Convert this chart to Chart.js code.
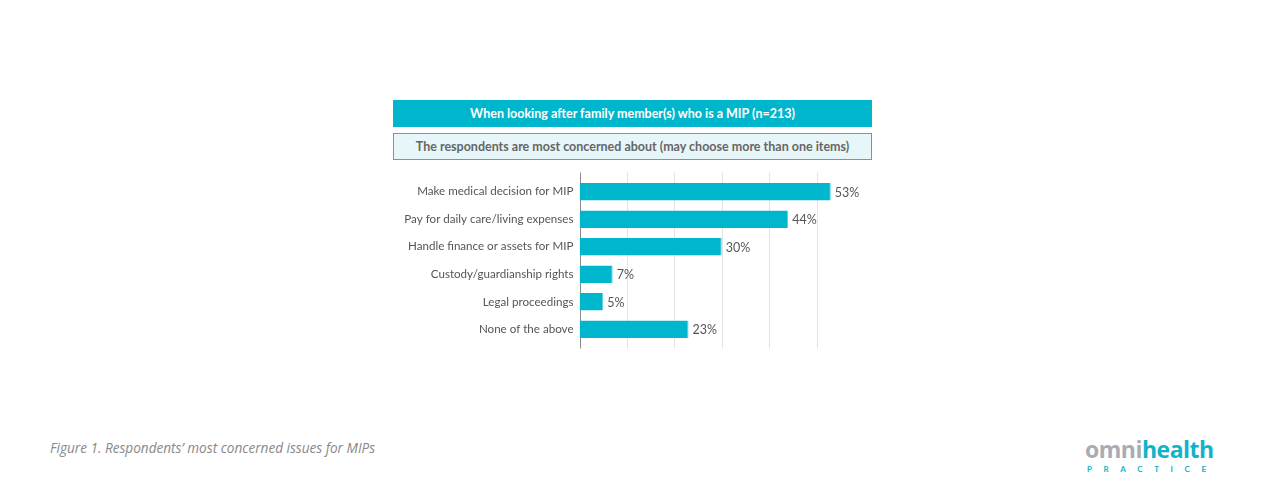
<!DOCTYPE html>
<html>
<head>
<meta charset="utf-8">
<script src="https://cdn.jsdelivr.net/npm/chart.js@4"></script>
<style>
  html, body { margin: 0; padding: 0; background: #fff; }
  body { width: 1266px; height: 498px; position: relative; overflow: hidden;
         font-family: Lato, "Open Sans", sans-serif; }
  .box { position: absolute; left: 393px; width: 479px; height: 27px; box-sizing: border-box;
         text-align: center; font-size: 12.5px; font-weight: bold; line-height: 25px; }
  #head { top: 100px; background: #00b6cc; color: #fff; border: 1px solid #00b6cc; }
  #sub  { top: 133px; background: #e7f6f9; color: #666; border: 1px solid #1fbcd1; }
  #wrap { position: absolute; left: 370px; top: 165px; width: 523px; height: 191px; }
  #caption { position: absolute; left: 50px; top: 438px; font-family: "Open Sans", sans-serif;
             font-size: 13.6px; font-style: italic; color: #888; }
  #logo { position: absolute; left: 1085px; top: 436px; width: 132px; height: 40px; }
  #logo .name { position: absolute; left: 0; top: 0; font-size: 23px; font-weight: bold;
                letter-spacing: -0.5px; line-height: 26px; font-family: "Open Sans", sans-serif; }
  #logo .omni { color: #a9adb2; }
  #logo .health { color: #10b3c9; }
  #logo .prac { position: absolute; left: 2px; top: 28px; font-size: 8px; font-weight: bold; color: #10b3c9;
                letter-spacing: 11.6px; line-height: 10px; }
</style>
</head>
<body>
<div class="box" id="head">When looking after family member(s) who is a MIP (n=213)</div>
<div class="box" id="sub">The respondents are most concerned about (may choose more than one items)</div>
<div id="wrap"><canvas id="chart"></canvas></div>
<div id="caption">Figure 1. Respondents’ most concerned issues for MIPs</div>
<div id="logo">
  <div class="name"><span class="omni">omni</span><span class="health">health</span></div>
  <div class="prac">PRACTICE</div>
</div>
<script>
const categories = [
  'Make medical decision for MIP',
  'Pay for daily care/living expenses',
  'Handle finance or assets for MIP',
  'Custody/guardianship rights',
  'Legal proceedings',
  'None of the above'
];
const shares = [53, 44, 30, 7, 5, 23];
const gridTicks = [10, 20, 30, 40, 50];

// vertical grid + axis line, a little taller than the plot area
const gridPlugin = {
  id: 'tallGrid',
  beforeDatasetsDraw(chart) {
    const { ctx, chartArea, scales } = chart;
    const top = chartArea.top - 5.5, bottom = chartArea.bottom + 5.5;
    ctx.save();
    ctx.lineWidth = 1;
    ctx.strokeStyle = '#e3e3e3';
    gridTicks.forEach(v => {
      const x = Math.round(scales.x.getPixelForValue(v)) + 0.5;
      ctx.beginPath(); ctx.moveTo(x, top); ctx.lineTo(x, bottom); ctx.stroke();
    });
    ctx.strokeStyle = '#8a8a8a';
    const x0 = Math.round(scales.x.getPixelForValue(0)) + 0.5;
    ctx.beginPath(); ctx.moveTo(x0, top); ctx.lineTo(x0, bottom); ctx.stroke();
    ctx.restore();
  }
};

// value labels at bar ends
const valuePlugin = {
  id: 'values',
  afterDatasetsDraw(chart) {
    const { ctx } = chart;
    const meta = chart.getDatasetMeta(0);
    ctx.save();
    ctx.font = '12.5px Lato, "Open Sans", sans-serif';
    ctx.fillStyle = '#555';
    ctx.textBaseline = 'middle';
    meta.data.forEach((bar, i) => {
      ctx.fillText(shares[i] + '%', bar.x + 4, bar.y + 1);
    });
    ctx.restore();
  }
};

new Chart(document.getElementById('chart'), {
  type: 'bar',
  data: {
    labels: categories,
    datasets: [{
      data: shares,
      backgroundColor: '#00b6cc',
      borderColor: '#5ccfdd',
      borderWidth: { top: 0, bottom: 0, left: 0, right: 1 },
      borderSkipped: false,
      barPercentage: 0.64,
      categoryPercentage: 1
    }]
  },
  options: {
    indexAxis: 'y',
    responsive: true,
    maintainAspectRatio: false,
    animation: false,
    layout: { padding: { top: 10, bottom: 11, right: 29 } },
    plugins: { legend: { display: false }, tooltip: { enabled: false } },
    scales: {
      x: { display: false, min: 0, max: 60 },
      y: {
        grid: { display: false, drawTicks: false },
        border: { display: false },
        ticks: {
          padding: 6,
          color: '#555',
          font: { family: 'Lato, "Open Sans", sans-serif', size: 11.6 }
        },
        afterFit(scale) { scale.width = 209.5; }
      }
    }
  },
  plugins: [gridPlugin, valuePlugin]
});
</script>
</body>
</html>
